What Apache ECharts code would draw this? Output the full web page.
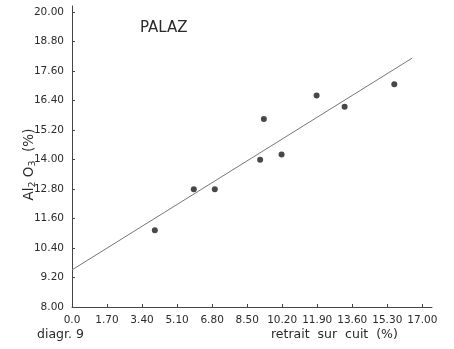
<!DOCTYPE html>
<html><head><meta charset="utf-8">
<script src="https://cdn.jsdelivr.net/npm/echarts@6/dist/echarts.min.js"></script>
<style>html,body{margin:0;padding:0;background:#fff}#c{width:454px;height:349px}</style>
</head><body><div id="c"></div>
<script>
var retrait = [4.02, 5.91, 6.93, 9.13, 9.31, 10.17, 11.87, 13.23, 15.64];
var al2o3 = [11.12, 12.79, 12.79, 13.99, 15.65, 14.21, 16.61, 16.15, 17.07];
var fitX = [0, 16.51];
var fitY = [9.51, 18.13];
var xTicks = [0, 1.7, 3.4, 5.1, 6.8, 8.5, 10.2, 11.9, 13.6, 15.3, 17.0];
var yTicks = [8.0, 9.2, 10.4, 11.6, 12.8, 14.0, 15.2, 16.4, 17.6, 18.8, 20.0];
var xTickLabels = ['0.0','1.70','3.40','5.10','6.80','8.50','10.20','11.90','13.60','15.30','17.00'];
var yTickLabels = ['8.00','9.20','10.40','11.60','12.80','14.00','15.20','16.40','17.60','18.80','20.00'];

var font = 'DejaVu Sans';
var chart = echarts.init(document.getElementById('c'), null, {renderer:'canvas'});
chart.setOption({
  animation:false,
  backgroundColor:'#fff',
  grid:{left:72, right:22, top:6, bottom:42, containLabel:false},
  xAxis:{type:'value', min:0, max:17.47,
    axisLine:{lineStyle:{color:'#444', width:1}},
    axisTick:{show:true, inside:true, length:3, customValues:xTicks, lineStyle:{color:'#444'}},
    axisLabel:{customValues:xTicks, margin:8, color:'#2a2a2a', fontFamily:font, fontSize:10.5,
      formatter:function(v){var i=xTicks.findIndex(function(t){return Math.abs(t-v)<1e-6});return i>=0?xTickLabels[i]:'';}},
    splitLine:{show:false}},
  yAxis:{type:'value', min:8, max:20.25,
    name:'Al{s|2} O{s|3}  (%)', nameLocation:'middle', nameRotate:90, nameGap:34, nameMoveOverlap:false,
    nameTextStyle:{color:'#2a2a2a', fontFamily:font, fontSize:13.5, padding:[0,16,0,0],
      rich:{s:{fontSize:9.5, fontFamily:font, color:'#2a2a2a', padding:[7,0,0,0]}}},
    axisLine:{show:true, lineStyle:{color:'#444', width:1}},
    axisTick:{show:true, inside:true, length:3, customValues:yTicks, lineStyle:{color:'#444'}},
    axisLabel:{customValues:yTicks, margin:8, color:'#2a2a2a', fontFamily:font, fontSize:10.5,
      formatter:function(v){var i=yTicks.findIndex(function(t){return Math.abs(t-v)<1e-6});return i>=0?yTickLabels[i]:'';}},
    splitLine:{show:false}},
  series:[
    {type:'line', data:fitX.map(function(x,i){return [x,fitY[i]];}), symbol:'none',
      lineStyle:{color:'#777', width:1}, z:1},
    {type:'scatter', data:retrait.map(function(x,i){return [x,al2o3[i]];}), symbol:'circle', symbolSize:6,
      itemStyle:{color:'#1a1a1a'}, z:2}
  ],
  graphic:[
    {type:'text', left:140, top:21, style:{text:'PALAZ', fill:'#2a2a2a', font:'15px "DejaVu Sans"'}},
    {type:'text', left:37, top:328, style:{text:'diagr. 9', fill:'#2a2a2a', font:'12.5px "DejaVu Sans"'}},
    {type:'text', left:271, top:328, style:{text:'retrait  sur  cuit  (%)', fill:'#2a2a2a', font:'12.5px "DejaVu Sans"'}}
  ]
});
</script></body></html>
